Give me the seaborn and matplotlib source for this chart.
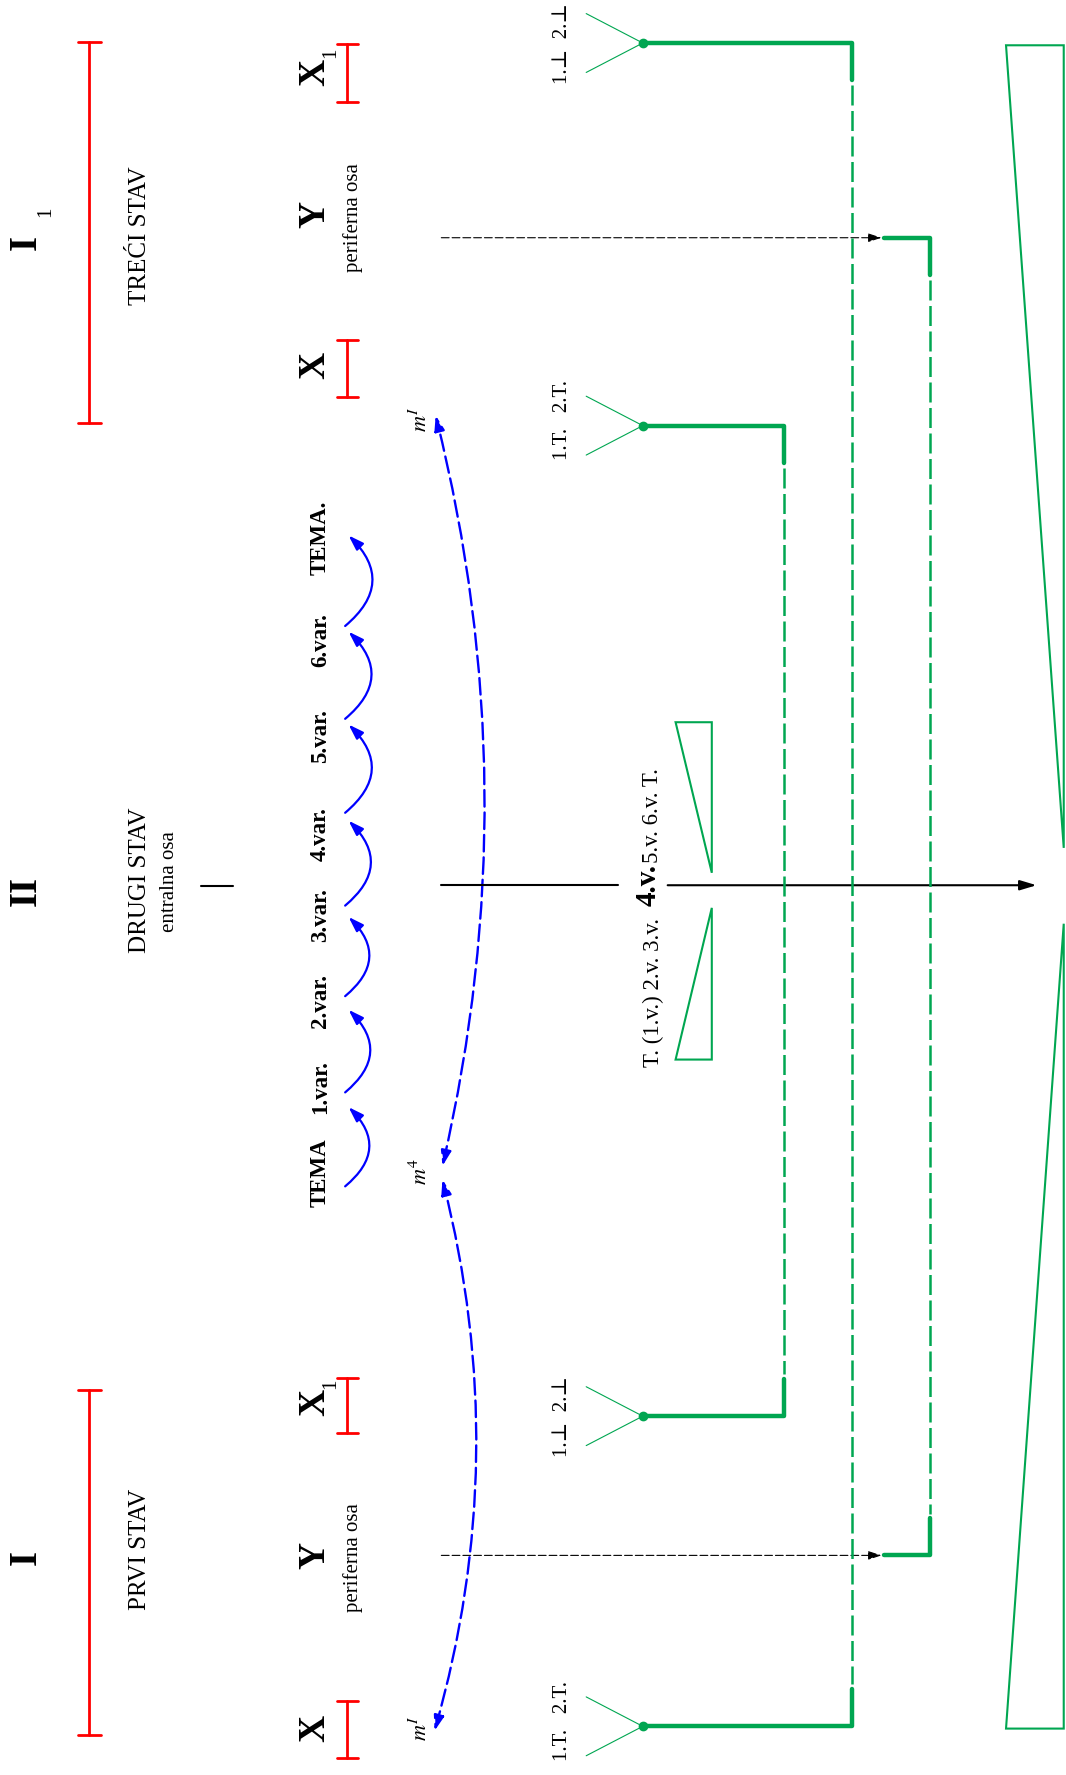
import matplotlib
matplotlib.use("Agg")
import matplotlib.pyplot as plt
import seaborn as sns
from matplotlib.patches import FancyArrowPatch, Polygon

sns.set_theme(style="white")
plt.rcParams['font.family'] = ['Liberation Serif', 'DejaVu Serif']
plt.rcParams['mathtext.fontset'] = 'stix'

RED = '#ff0000'
GREEN = '#00a651'
BLUE = '#0000ff'
BLACK = '#000000'

# ---- data (page units: 942 wide x 1568 tall) ----
stav_names = ['TREĆI STAV', 'DRUGI STAV', 'PRVI STAV']
stav_name_y = [208, 778, 1369]
stav_roman = ['I', 'II', 'I']
stav_roman_y = [214, 787, 1376]
stav_sub = ['1', '', '']
stav_spans = [(37, 374), None, (1228, 1533)]

axis_letters = ['X', 'Y', 'X', 'X', 'Y', 'X']
axis_subs = ['1', '', '', '1', '', '']
axis_y = [64, 189, 323, 1239, 1374, 1527]
axis_spans = [(39, 90), None, (300, 351), (1217, 1266), None, (1503, 1553)]
periph_y = [192, 1376]

var_labels = ['TEMA', '1.var.', '2.var.', '3.var.', '4.var.', '5.var.', '6.var.', 'TEMA.']
var_y = [1036, 960, 884, 808, 737, 650, 565, 475]
arc_from = [1048, 965, 880, 800, 718, 635, 553]
arc_to = [978, 892, 810, 725, 640, 558, 473]

m_labels = ['$m^{I}$', '$m^{4}$', '$m^{I}$']
m_y = [370, 1035, 1527]

fork_y = [38, 376, 1251, 1525]
fork_text = ['1.⊥  2.⊥', '1.T.   2.T.', '1.⊥  2.⊥', '1.T.   2.T.']
fork_shift = [0, -5, 0, -5]

link_x = [753, 693, 822]
link_top = [38, 376, 210]
link_bot = [1525, 1251, 1374]
link_start = [568, 568, 781]

y_arrow_y = [210, 1374]

fig = plt.figure(figsize=(10.66, 17.75), dpi=100)
ax = fig.add_axes([0, 0, 1, 1])


def vtext(x, y, s, size, weight='normal', ha='center', style='normal'):
    ax.text(x, y, s, fontsize=size, fontweight=weight, rotation=90,
            rotation_mode='anchor', ha=ha, va='center', color=BLACK,
            fontstyle=style)


def bracket(x, y0, y1, half, lw):
    sns.lineplot(x=[x, x], y=[y0, y1], sort=False, estimator=None, ax=ax,
                 color=RED, linewidth=lw)
    for yy in (y0, y1):
        sns.lineplot(x=[x - half, x + half], y=[yy, yy], sort=False,
                     estimator=None, ax=ax, color=RED, linewidth=lw)


# movements
for name, ny, rom, ry, sub, span in zip(stav_names, stav_name_y, stav_roman,
                                        stav_roman_y, stav_sub, stav_spans):
    vtext(124, ny, name, 18)
    vtext(23, ry, rom, 28, weight='bold')
    if sub:
        vtext(40, ry - 27, sub, 15)
    if span:
        bracket(79, span[0], span[1], 10, 2)
vtext(150, 779, 'entralna osa', 15)
ax.plot([178, 206], [783, 783], color=BLACK, lw=1.5)

# axes X / Y
for let, sub, yy, span in zip(axis_letters, axis_subs, axis_y, axis_spans):
    vtext(278, yy, let, 27, weight='bold')
    if sub:
        vtext(292, yy - 17, sub, 15)
    if span:
        bracket(307, span[0], span[1], 9, 2)
for yy in periph_y:
    vtext(312, yy, 'periferna osa', 15)

# variation chain
for lab, yy in zip(var_labels, var_y):
    vtext(283, yy, lab, 16.5, weight='bold')
for a, b in zip(arc_from, arc_to):
    ax.add_patch(FancyArrowPatch((305, a), (308, b),
                                 connectionstyle='arc3,rad=0.55',
                                 arrowstyle='-|>,head_length=9,head_width=3',
                                 color=BLUE, lw=1.6, shrinkA=0, shrinkB=0))

# long dashed arcs m^I - m^4 - m^I
ax.add_patch(FancyArrowPatch((391, 1030), (385, 367),
                             connectionstyle='arc3,rad=0.12',
                             arrowstyle='<|-|>,head_length=9,head_width=3',
                             color=BLUE, lw=1.7, linestyle=(0, (7, 2.5)),
                             shrinkA=0, shrinkB=0))
ax.add_patch(FancyArrowPatch((384, 1529), (391, 1042),
                             connectionstyle='arc3,rad=0.135',
                             arrowstyle='<|-|>,head_length=9,head_width=3',
                             color=BLUE, lw=1.7, linestyle=(0, (7, 2.5)),
                             shrinkA=0, shrinkB=0))
for lab, yy in zip(m_labels, m_y):
    vtext(372, yy, lab, 16)

# central axis
ax.plot([390, 546], [782, 782], color=BLACK, lw=1.5)
ax.add_patch(FancyArrowPatch((590, 782), (916, 782),
                             arrowstyle='-|>,head_length=10,head_width=3',
                             color=BLACK, lw=1.5, shrinkA=0, shrinkB=0))
vtext(577, 943, 'T. (1.v.) 2.v. 3.v.', 16.5, ha='left')
vtext(573, 782, '4.v.', 21, weight='bold')
vtext(577, 762, '5.v. 6.v. T.', 16.5, ha='left')

# peripheral Y arrows
for yy in y_arrow_y:
    ax.add_patch(FancyArrowPatch((390, yy), (779, yy),
                                 arrowstyle='-|>,head_length=8,head_width=2.6',
                                 color=BLACK, lw=0.8, linestyle=(0, (7, 2.7)),
                                 shrinkA=0, shrinkB=0))

# forks
for fy, ft, fs in zip(fork_y, fork_text, fork_shift):
    ax.plot([518, 568, 518], [fy - 26, fy, fy + 26], color=GREEN, lw=0.8)
    ax.plot([568], [fy], 'o', color=GREEN, ms=6)
    vtext(497, fy + fs, ft, 15)

# links between recurring material
stub = 33
for lx, top, bot, st in zip(link_x, link_top, link_bot, link_start):
    sns.lineplot(x=[st, lx, lx], y=[top, top, top + stub], sort=False,
                 estimator=None, ax=ax, color=GREEN, linewidth=3.2)
    sns.lineplot(x=[lx, lx, st], y=[bot - stub, bot, bot], sort=False,
                 estimator=None, ax=ax, color=GREEN, linewidth=3.2)
    ax.plot([lx, lx], [top + stub + 4, bot - stub - 4], color=GREEN, lw=1.8,
            dashes=(8, 2.2))

# dynamic wedges
ax.add_patch(Polygon([(597, 638), (629, 638), (629, 771)], closed=True,
                     fill=False, edgecolor=GREEN, lw=1.5))
ax.add_patch(Polygon([(597, 936), (629, 936), (629, 802)], closed=True,
                     fill=False, edgecolor=GREEN, lw=1.5))
ax.add_patch(Polygon([(889, 40), (940, 40), (940, 749)], closed=True,
                     fill=False, edgecolor=GREEN, lw=1.5))
ax.add_patch(Polygon([(940, 816), (940, 1527), (889, 1527)], closed=True,
                     fill=False, edgecolor=GREEN, lw=1.5))

ax.set_xlim(0, 942)
ax.set_ylim(1568, 0)
ax.axis('off')
fig.savefig('out.png', dpi=100, facecolor='white')
